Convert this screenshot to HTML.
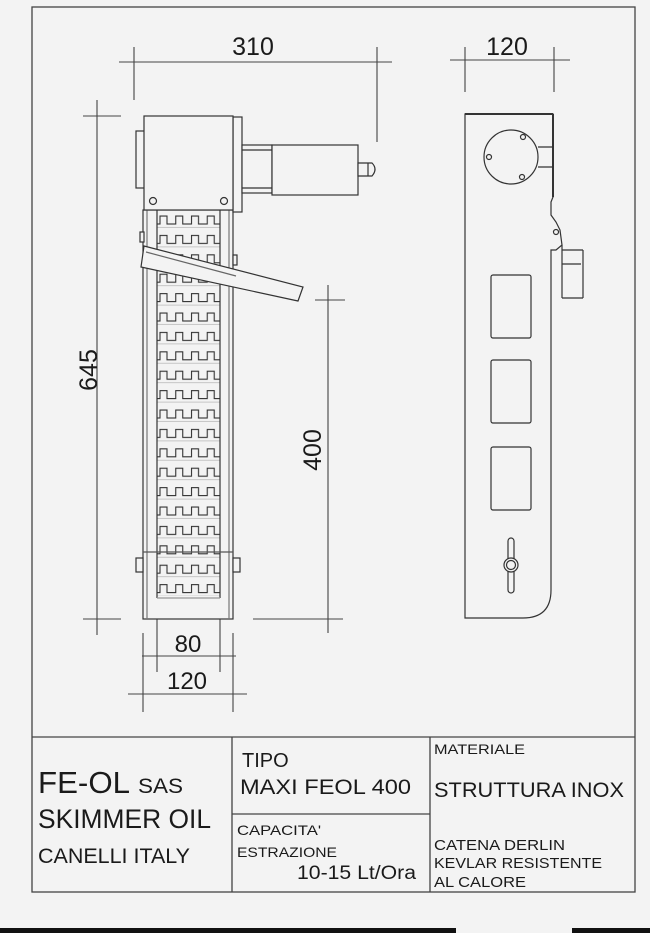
<!DOCTYPE html>
<html><head><meta charset="utf-8"><style>
html,body{margin:0;padding:0;background:#f3f3f3;}
svg{display:block;}
text{font-family:"Liberation Sans",Arial,sans-serif;fill:#1a1a1a;}
</style></head><body>
<svg width="650" height="933" viewBox="0 0 650 933" xmlns="http://www.w3.org/2000/svg">
<defs>
<pattern id="teeth" x="157" y="211" width="15.75" height="19.4" patternUnits="userSpaceOnUse">
<path d="M0 13 H3 V5 H10 V13 H15.75" fill="none" stroke="#333" stroke-width="1.1"/>
<path d="M0 16.5 H15.75" stroke="#bbb" stroke-width="0.8"/>
</pattern>
</defs>
<rect width="650" height="933" fill="#f3f3f3"/>
<g fill="none" stroke="#444" stroke-width="1.3">
<rect x="32" y="7" width="603" height="885"/>
<line x1="32" y1="737" x2="635" y2="737"/>
<line x1="232" y1="737" x2="232" y2="892"/>
<line x1="430" y1="737" x2="430" y2="892"/>
<line x1="232" y1="814" x2="430" y2="814"/>
</g>
<rect x="0" y="928" width="456" height="5" fill="#111"/>
<rect x="572" y="928" width="78" height="5" fill="#111"/>

<g fill="none" stroke="#444" stroke-width="1.1">
<line x1="119" y1="62" x2="392" y2="62"/>
<line x1="134" y1="47" x2="134" y2="100"/>
<line x1="377" y1="47" x2="377" y2="142"/>
<line x1="450" y1="60" x2="570" y2="60"/>
<line x1="465" y1="47" x2="465" y2="92"/>
<line x1="554" y1="47" x2="554" y2="92"/>
<line x1="97" y1="100" x2="97" y2="635"/>
<line x1="83" y1="116" x2="121" y2="116"/>
<line x1="83" y1="619" x2="121" y2="619"/>
<line x1="328" y1="285" x2="328" y2="633"/>
<line x1="315" y1="300" x2="345" y2="300"/>
<line x1="253" y1="619" x2="343" y2="619"/>
<line x1="157" y1="607" x2="157" y2="672"/>
<line x1="220" y1="607" x2="220" y2="672"/>
<line x1="142" y1="656" x2="236" y2="656"/>
<line x1="143" y1="633" x2="143" y2="712"/>
<line x1="233" y1="633" x2="233" y2="712"/>
<line x1="128" y1="694" x2="247" y2="694"/>
</g>

<g fill="#f3f3f3" stroke="#333" stroke-width="1.2">
<rect x="143" y="210" width="90" height="409"/>
<rect x="157" y="210" width="63" height="386" fill="url(#teeth)" stroke="none"/>
<line x1="157" y1="210" x2="157" y2="598"/>
<line x1="220" y1="210" x2="220" y2="598"/>
<line x1="147" y1="210" x2="147" y2="619" stroke="#777"/>
<line x1="229" y1="210" x2="229" y2="619" stroke="#777"/>
<line x1="157" y1="598" x2="220" y2="598" stroke="#999"/>
<rect x="136" y="131" width="9" height="57"/>
<rect x="233" y="117" width="9" height="95"/>
<rect x="144" y="116" width="89" height="94"/>
<circle cx="153" cy="201" r="3.5"/>
<circle cx="224" cy="201" r="3.5"/>
<rect x="242" y="145" width="30" height="48"/>
<line x1="242" y1="150" x2="272" y2="150"/>
<line x1="242" y1="188" x2="272" y2="188"/>
<rect x="272" y="145" width="86" height="50"/>
<path d="M358 163 H372 Q378 169 372 176 H358 Z"/>
<line x1="368" y1="163" x2="368" y2="176"/>
<rect x="140" y="232" width="4" height="10"/>
<rect x="233" y="255" width="4" height="10"/>
<polygon points="144,246 303,287 298,301 141,267"/>
<line x1="146" y1="252" x2="236" y2="276" stroke="#666"/>
<rect x="136" y="558" width="7" height="14"/>
<rect x="233" y="558" width="7" height="14"/>
<line x1="143" y1="552" x2="233" y2="552" stroke="#555"/>
</g>

<g fill="none" stroke="#333" stroke-width="1.2">
<path d="M465 114 H553 V197 L551 202 V215 L556 222 L560 230 L562 245 L556 250 H551 V590 Q551 618 523 618 H465 Z" fill="#f3f3f3"/>
<line x1="465" y1="114" x2="553" y2="114" stroke-width="2"/>
<line x1="553" y1="114" x2="553" y2="197" stroke-width="2"/>
<circle cx="511" cy="157" r="27"/>
<circle cx="523" cy="137" r="2.5"/>
<circle cx="489" cy="157" r="2.5"/>
<circle cx="522" cy="177" r="2.5"/>
<path d="M538 147 H553 M538 167 H553"/>
<circle cx="556" cy="232" r="2.5"/>
<path d="M562 250 H583 M583 250 V298 M562 298 H583 M562 264 H581"/>
<line x1="562" y1="245" x2="562" y2="298"/>
<rect x="491" y="275" width="40" height="63" rx="2"/>
<rect x="491" y="360" width="40" height="63" rx="2"/>
<rect x="491" y="447" width="40" height="63" rx="2"/>
<rect x="508" y="538" width="6" height="55" rx="3"/>
<circle cx="511" cy="565" r="7" fill="#f3f3f3"/>
<circle cx="511" cy="565" r="4.5"/>
</g>

<text x="253" y="55" font-size="25" text-anchor="middle">310</text>
<text x="507" y="55" font-size="25" text-anchor="middle">120</text>
<text transform="translate(97,370) rotate(-90)" font-size="25" text-anchor="middle">645</text>
<text transform="translate(321,450) rotate(-90)" font-size="25" text-anchor="middle">400</text>
<text x="188" y="652" font-size="24" text-anchor="middle">80</text>
<text x="187" y="689" font-size="24" text-anchor="middle">120</text>

<text x="38" y="793" font-size="31" textLength="92" lengthAdjust="spacingAndGlyphs">FE-OL</text>
<text x="138" y="793" font-size="21" textLength="45" lengthAdjust="spacingAndGlyphs">SAS</text>
<text x="38" y="828" font-size="27" textLength="173" lengthAdjust="spacingAndGlyphs">SKIMMER OIL</text>
<text x="38" y="863" font-size="21" textLength="152" lengthAdjust="spacingAndGlyphs">CANELLI ITALY</text>
<text x="242" y="767" font-size="20">TIPO</text>
<text x="240" y="794" font-size="21" textLength="171" lengthAdjust="spacingAndGlyphs">MAXI FEOL 400</text>
<text x="237" y="835" font-size="14" textLength="84" lengthAdjust="spacingAndGlyphs">CAPACITA'</text>
<text x="237" y="857" font-size="14" textLength="100" lengthAdjust="spacingAndGlyphs">ESTRAZIONE</text>
<text x="297" y="879" font-size="19" textLength="119" lengthAdjust="spacingAndGlyphs">10-15 Lt/Ora</text>
<text x="434" y="754" font-size="14" textLength="91" lengthAdjust="spacingAndGlyphs">MATERIALE</text>
<text x="434" y="797" font-size="21" textLength="190" lengthAdjust="spacingAndGlyphs">STRUTTURA INOX</text>
<text x="434" y="850" font-size="15" textLength="131" lengthAdjust="spacingAndGlyphs">CATENA DERLIN</text>
<text x="434" y="868" font-size="15" textLength="168" lengthAdjust="spacingAndGlyphs">KEVLAR RESISTENTE</text>
<text x="434" y="887" font-size="15" textLength="92" lengthAdjust="spacingAndGlyphs">AL CALORE</text>
</svg>
</body></html>
